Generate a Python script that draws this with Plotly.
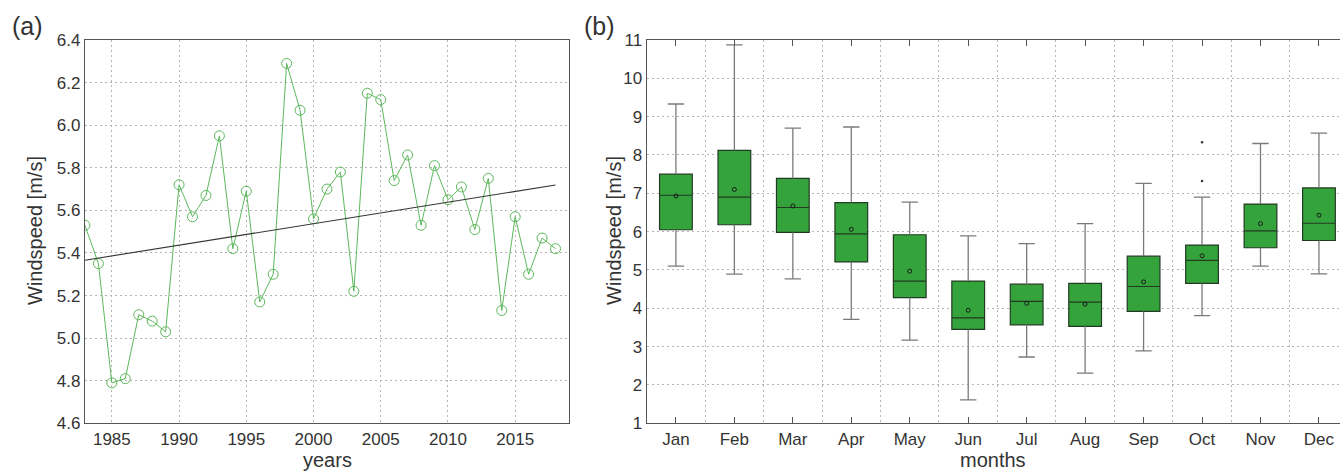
import plotly.graph_objects as go

# ---------------- data ----------------
years = list(range(1983, 2019))
annual_speed = [5.53, 5.35, 4.79, 4.81, 5.11, 5.08, 5.03, 5.72, 5.57, 5.67,
                5.95, 5.42, 5.69, 5.17, 5.30, 6.29, 6.07, 5.56, 5.70, 5.78,
                5.22, 6.15, 6.12, 5.74, 5.86, 5.53, 5.81, 5.65, 5.71, 5.51,
                5.75, 5.13, 5.57, 5.30, 5.47, 5.42]
trend_years = [1983, 2018]
trend_values = [5.366, 5.719]
year_ticks = [1985, 1990, 1995, 2000, 2005, 2010, 2015]

months = ["Jan", "Feb", "Mar", "Apr", "May", "Jun",
          "Jul", "Aug", "Sep", "Oct", "Nov", "Dec"]
month_pos = list(range(1, 13))
m_lower = [5.10, 4.89, 4.77, 3.71, 3.17, 1.61, 2.73, 2.31, 2.89, 3.81, 5.10, 4.90]
m_q1 = [6.05, 6.18, 5.98, 5.21, 4.28, 3.45, 3.57, 3.53, 3.92, 4.65, 5.58, 5.77]
m_median = [6.95, 6.90, 6.63, 5.94, 4.71, 3.75, 4.18, 4.16, 4.57, 5.25, 6.02, 6.22]
m_mean = [6.93, 7.10, 6.67, 6.06, 4.97, 3.95, 4.13, 4.11, 4.69, 5.37, 6.21, 6.43]
m_q3 = [7.50, 8.12, 7.39, 6.76, 5.92, 4.71, 4.63, 4.65, 5.36, 5.65, 6.72, 7.14]
m_upper = [9.33, 10.87, 8.70, 8.73, 6.77, 5.89, 5.69, 6.21, 7.26, 6.90, 8.30, 8.57]
outlier_x = [10, 10]
outlier_y = [8.33, 7.32]

# ---------------- style ----------------
FONT = "Liberation Sans, Arial, sans-serif"
TXT = "#333333"
AXC = "#555555"
GRIDC = "#b5b5b5"
GRIDDASH = "2px,3px"
GREEN_LINE = "#5cb85c"
BOX_FILL = "#34a33c"
BOX_EDGE = "#223a22"
WHISK = "#7a7a7a"
CAP = 0.14

fig = go.Figure()

# ---- panel (a) ----
fig.add_trace(go.Scatter(
    x=years, y=annual_speed, mode="lines+markers",
    line=dict(color=GREEN_LINE, width=1),
    marker=dict(symbol="circle-open", size=10, color=GREEN_LINE, line=dict(width=1)),
    xaxis="x", yaxis="y", showlegend=False))
fig.add_trace(go.Scatter(
    x=trend_years, y=trend_values, mode="lines",
    line=dict(color="#333333", width=1.1),
    xaxis="x", yaxis="y", showlegend=False))

# ---- panel (b) ----
wx, wy = [], []
for i, m in enumerate(month_pos):
    wx += [m, m, None, m, m, None, m - CAP, m + CAP, None, m - CAP, m + CAP, None]
    wy += [m_q3[i], m_upper[i], None, m_q1[i], m_lower[i], None,
           m_upper[i], m_upper[i], None, m_lower[i], m_lower[i], None]
fig.add_trace(go.Scatter(
    x=wx, y=wy, mode="lines", line=dict(color=WHISK, width=1.3),
    xaxis="x2", yaxis="y2", showlegend=False, hoverinfo="skip"))

fig.add_trace(go.Box(
    x=month_pos, q1=m_q1, median=m_median, q3=m_q3,
    lowerfence=m_q1, upperfence=m_q3,
    width=0.56, whiskerwidth=0,
    fillcolor=BOX_FILL, line=dict(color=BOX_EDGE, width=1.2),
    xaxis="x2", yaxis="y2", showlegend=False))

fig.add_trace(go.Scatter(
    x=month_pos, y=m_mean, mode="markers",
    marker=dict(symbol="circle-open", size=4, color="#1a1a1a", line=dict(width=1)),
    xaxis="x2", yaxis="y2", showlegend=False))
fig.add_trace(go.Scatter(
    x=outlier_x, y=outlier_y, mode="markers",
    marker=dict(symbol="circle", size=2.5, color="#333333"),
    xaxis="x2", yaxis="y2", showlegend=False))

grid_common = dict(showgrid=True, gridcolor=GRIDC, griddash=GRIDDASH, gridwidth=1,
                   showline=True, linecolor=AXC, linewidth=1.2, zeroline=False,
                   automargin=False,
                   tickfont=dict(size=17, color=TXT, family=FONT))

fig.update_layout(
    width=1340, height=471,
    margin=dict(l=0, r=0, t=0, b=0, pad=0, autoexpand=False),
    showlegend=False,
    paper_bgcolor="white", plot_bgcolor="white",
    font=dict(family=FONT, color=TXT),
    xaxis=dict(domain=[0.0634, 0.4246], range=[1983, 2019],
               tickmode="array", tickvals=year_ticks, ticks="",
               mirror=True, anchor="y", **grid_common),
    yaxis=dict(domain=[0.1012, 0.9151], range=[4.6, 6.4], dtick=0.2, tick0=4.6,
               tickformat=".1f", ticks="", mirror=True, anchor="x", **grid_common),
    xaxis2=dict(domain=[0.4826, 1.0], range=[0.5, 12.36],
                tickmode="array", tickvals=month_pos, ticktext=months,
                ticks="inside", ticklen=6, tickcolor=AXC, mirror="ticks",
                anchor="y2",
                minor=dict(tickmode="array",
                           tickvals=[m + 0.5 for m in month_pos[:-1]],
                           showgrid=True, gridcolor=GRIDC, griddash=GRIDDASH,
                           gridwidth=1, ticks=""),
                **{k: v for k, v in grid_common.items() if k not in ("showgrid",)},
                showgrid=False),
    yaxis2=dict(domain=[0.1012, 0.9151], range=[1, 11], dtick=1, tick0=1,
                ticks="", mirror=False, anchor="x2", **grid_common),
)

ann = [
    dict(text="(a)", x=10 / 1340, y=1 - 26 / 471, xanchor="left", yanchor="middle",
         font=dict(size=25)),
    dict(text="(b)", x=582 / 1340, y=1 - 26 / 471, xanchor="left", yanchor="middle",
         font=dict(size=25)),
    dict(text="Windspeed [m/s]", x=35 / 1340, y=1 - 231 / 471, textangle=-90,
         xanchor="center", yanchor="middle", font=dict(size=20)),
    dict(text="Windspeed [m/s]", x=614 / 1340, y=1 - 231 / 471, textangle=-90,
         xanchor="center", yanchor="middle", font=dict(size=20)),
    dict(text="years", x=327 / 1340, y=1 - 460 / 471, xanchor="center",
         yanchor="middle", font=dict(size=20)),
    dict(text="months", x=993 / 1340, y=1 - 460 / 471, xanchor="center",
         yanchor="middle", font=dict(size=20)),
]
for a in ann:
    a.update(xref="paper", yref="paper", showarrow=False)
    a["font"].update(family=FONT, color=TXT)
fig.update_layout(annotations=ann)

fig.write_html(
    "out.html",
    config={"displayModeBar": False},
    post_script="document.body.style.margin='0px';"
                "document.body.style.overflow='hidden';",
)
